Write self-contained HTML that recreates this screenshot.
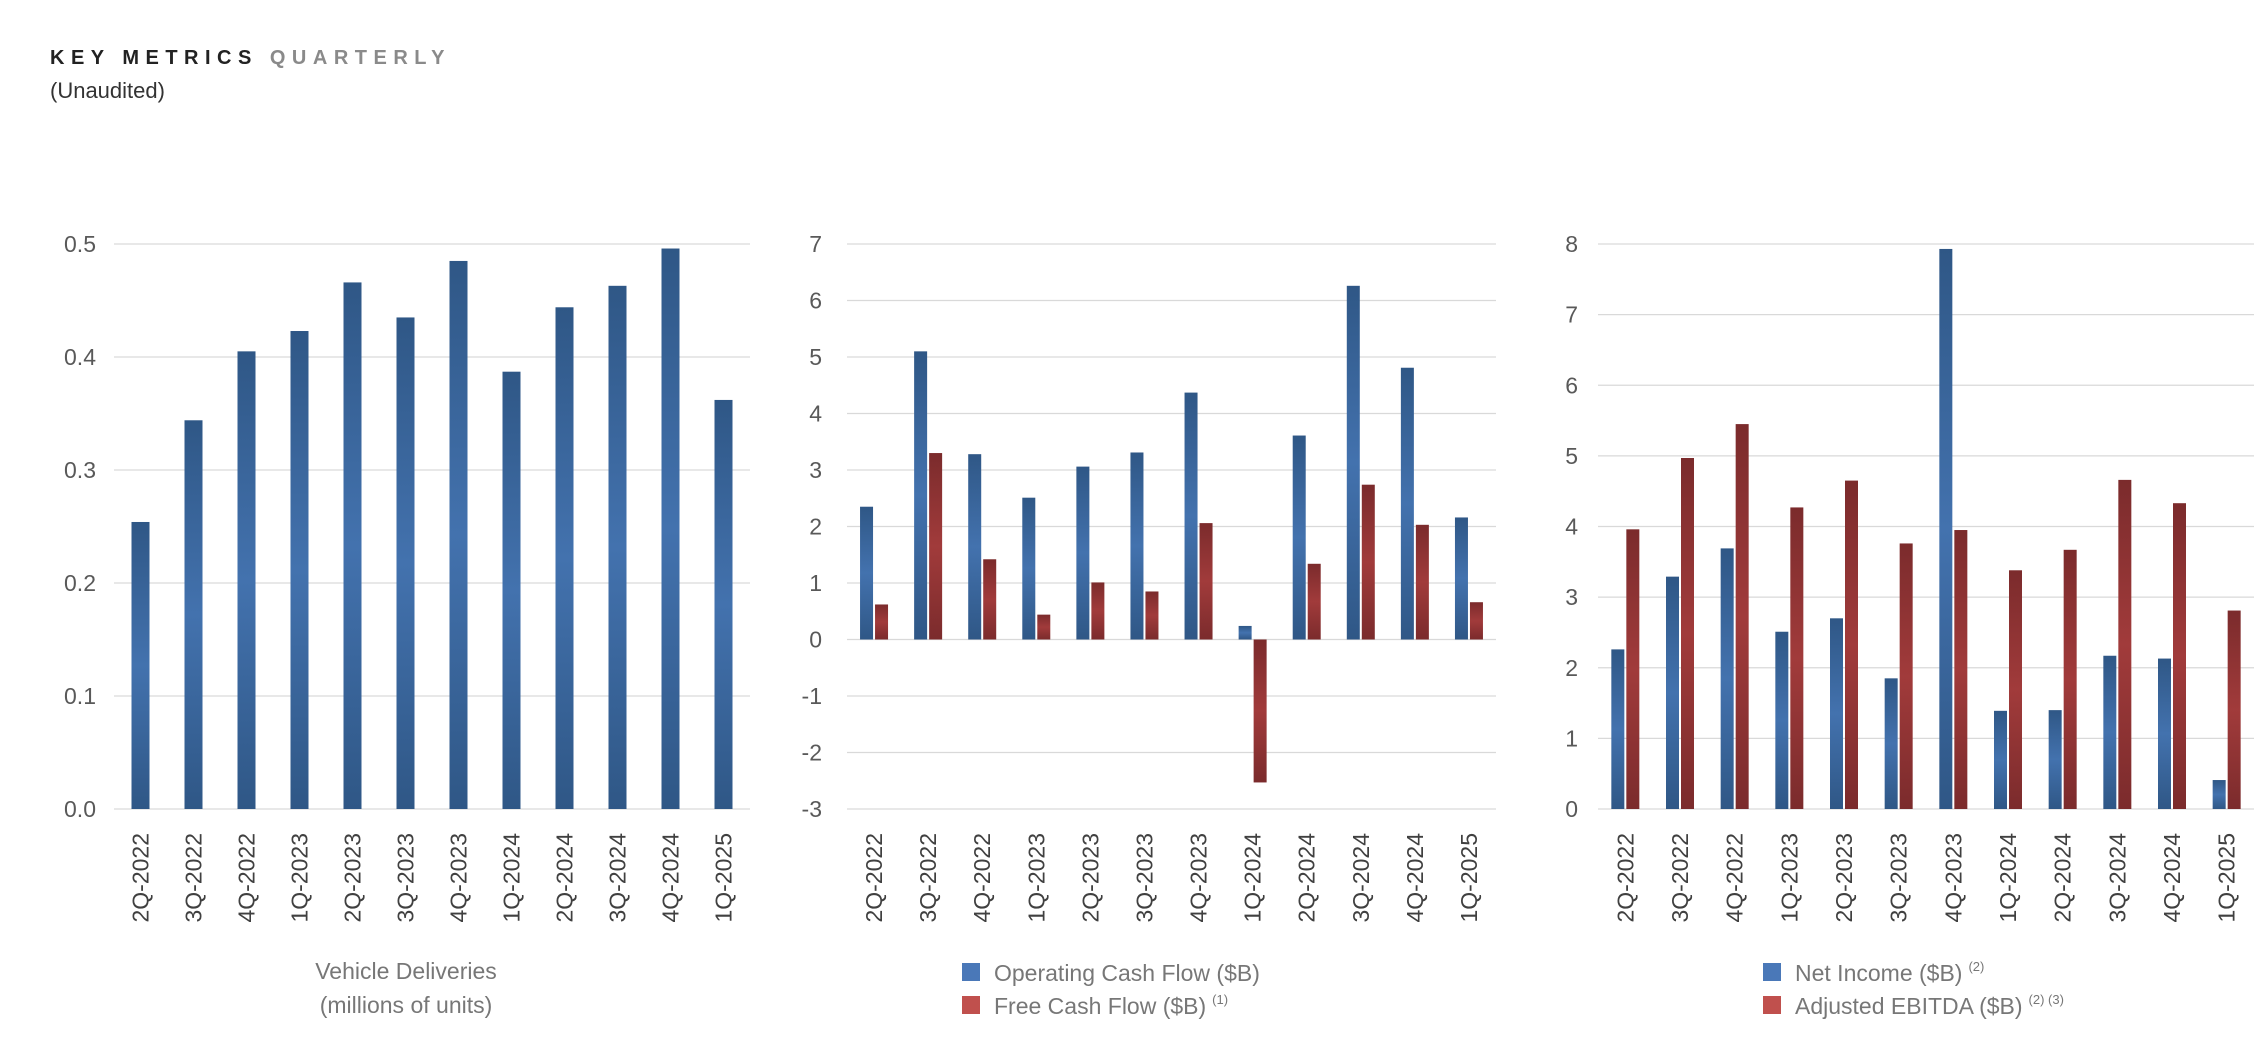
<!DOCTYPE html>
<html><head><meta charset="utf-8"><style>
html,body{margin:0;padding:0;background:#fff;width:2262px;height:1056px;overflow:hidden}
svg text{font-family:"Liberation Sans","DejaVu Sans",sans-serif}
</style></head><body>
<svg id="root" width="2262" height="1056" viewBox="0 0 2262 1056" xmlns="http://www.w3.org/2000/svg">
<defs>
<linearGradient id="gBlue" x1="0" y1="0" x2="0" y2="1">
<stop offset="0" stop-color="#2f5786"/><stop offset="0.5" stop-color="#4372ae"/><stop offset="1" stop-color="#2f5786"/></linearGradient>
<linearGradient id="gRed" x1="0" y1="0" x2="0" y2="1">
<stop offset="0" stop-color="#7b2b2c"/><stop offset="0.5" stop-color="#a13b3b"/><stop offset="1" stop-color="#7b2b2c"/></linearGradient>
</defs>
<text x="50" y="64" font-size="20" font-weight="bold" letter-spacing="6.5" fill="#222">KEY METRICS <tspan fill="#8a8a8a">QUARTERLY</tspan></text>
<text x="50" y="98" font-size="22" fill="#333">(Unaudited)</text>
</svg>
<script>
const categories=["2Q-2022","3Q-2022","4Q-2022","1Q-2023","2Q-2023","3Q-2023","4Q-2023","1Q-2024","2Q-2024","3Q-2024","4Q-2024","1Q-2025"];
const deliveries=[0.254,0.344,0.405,0.423,0.466,0.435,0.485,0.387,0.444,0.463,0.496,0.362];
const operatingCashFlow=[2.35,5.10,3.28,2.51,3.06,3.31,4.37,0.24,3.61,6.26,4.81,2.16];
const freeCashFlow=[0.62,3.30,1.42,0.44,1.01,0.85,2.06,-2.53,1.34,2.74,2.03,0.66];
const netIncome=[2.26,3.29,3.69,2.51,2.70,1.85,7.93,1.39,1.40,2.17,2.13,0.41];
const adjustedEbitda=[3.96,4.97,5.45,4.27,4.65,3.76,3.95,3.38,3.67,4.66,4.33,2.81];
const ticks1=[0,0.1,0.2,0.3,0.4,0.5];
const ticks2=[-3,-2,-1,0,1,2,3,4,5,6,7];
const ticks3=[0,1,2,3,4,5,6,7,8];

const NS="http://www.w3.org/2000/svg";
const root=document.getElementById('root');
function mk(tag,attrs,parent){const e=document.createElementNS(NS,tag);for(const k in attrs)e.setAttribute(k,attrs[k]);(parent||root).appendChild(e);return e;}

function chart(cfg){
  const g=mk('g',{});
  
  
  const top=244,bot=809;
  const y=v=>bot-(v-cfg.min)/(cfg.max-cfg.min)*(bot-top);
  const bw=(cfg.x1-cfg.x0)/categories.length;
  const xc=i=>cfg.x0+bw*(i+0.5);
  cfg.ticks.forEach(t=>{
    const l=mk('line',{x1:cfg.x0,x2:cfg.x1,y1:y(t),y2:y(t),stroke:'#d9d9d9','stroke-width':1.3},g);
    
    
    const tx=mk('text',{x:cfg.lx,y:y(t)+8,'font-size':23,fill:'#595959','text-anchor':'end'},g);
    tx.textContent=cfg.fmt(t);
    
    
  });
  categories.forEach((c,i)=>{
    const tx=mk('text',{x:0,y:0,'font-size':23,fill:'#404040','text-anchor':'end',transform:`translate(${xc(i)+8},833) rotate(-90)`},g);
    tx.textContent=c;
    
    
  });
  const n=cfg.series.length;
  cfg.series.forEach((s,si)=>{
    s.values.forEach((v,i)=>{
      let x;
      if(n===1)x=xc(i)-cfg.w/2;else x=xc(i)+(si===0?-cfg.w-1:1);
      const y0=y(0),yv=y(v);
      const r=mk('rect',{x:x,y:Math.min(y0,yv),width:cfg.w,height:Math.abs(y0-yv),fill:s.fill},g);
      
      
    });
  });
  return g;
}

chart({name:'vehicle-deliveries-chart',x0:114,x1:750,lx:96,min:0,max:0.5,ticks:ticks1,fmt:t=>t.toFixed(1),w:18,
  series:[{key:'deliveries',values:deliveries,fill:'url(#gBlue)'}]});
chart({name:'cash-flow-chart',x0:847,x1:1496,lx:822,min:-3,max:7,ticks:ticks2,fmt:t=>String(t),w:13,
  series:[{key:'operating-cash-flow',values:operatingCashFlow,fill:'url(#gBlue)'},{key:'free-cash-flow',values:freeCashFlow,fill:'url(#gRed)'}]});
chart({name:'income-chart',x0:1598,x1:2254,lx:1578,min:0,max:8,ticks:ticks3,fmt:t=>String(t),w:13,
  series:[{key:'net-income',values:netIncome,fill:'url(#gBlue)'},{key:'adjusted-ebitda',values:adjustedEbitda,fill:'url(#gRed)'}]});

let t=mk('text',{x:406,y:979,'font-size':23,fill:'#777','text-anchor':'middle'});
t.textContent='Vehicle Deliveries';


t=mk('text',{x:406,y:1013,'font-size':23,fill:'#777','text-anchor':'middle'});
t.textContent='(millions of units)';



function legend(x,yc,color,label,sup){
  const r=mk('rect',{x:x,y:yc-10,width:18,height:18,fill:color});
  
  
  const tx=mk('text',{x:x+32,y:yc+8,'font-size':23,fill:'#777'});
  tx.textContent=label;
  if(sup){const s=mk('tspan',{'font-size':13,dy:-10,dx:6},tx);s.textContent=sup;}
  
  
}
legend(962,973,'#4a78b8','Operating Cash Flow ($B)');
legend(962,1006,'#c0504d','Free Cash Flow ($B)','(1)');
legend(1763,973,'#4a78b8','Net Income ($B)','(2)');
legend(1763,1006,'#c0504d','Adjusted EBITDA ($B)','(2) (3)');
</script>
</body></html>
